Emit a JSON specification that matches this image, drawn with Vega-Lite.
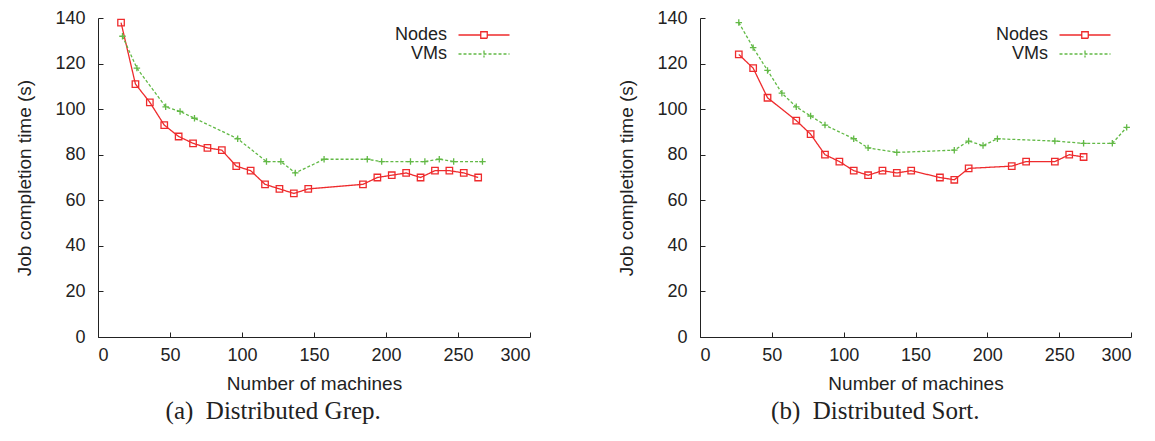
{
  "$schema": "https://vega.github.io/schema/vega-lite/v6.json",
  "background": "white",
  "padding": {"left": 15, "top": 9, "right": 2, "bottom": 2},
  "datasets": {
    "grep": [
      {"machines": 16, "time": 138, "series": "Nodes"},
      {"machines": 26, "time": 111, "series": "Nodes"},
      {"machines": 36, "time": 103, "series": "Nodes"},
      {"machines": 46, "time": 93, "series": "Nodes"},
      {"machines": 56, "time": 88, "series": "Nodes"},
      {"machines": 66, "time": 85, "series": "Nodes"},
      {"machines": 76, "time": 83, "series": "Nodes"},
      {"machines": 86, "time": 82, "series": "Nodes"},
      {"machines": 96, "time": 75, "series": "Nodes"},
      {"machines": 106, "time": 73, "series": "Nodes"},
      {"machines": 116, "time": 67, "series": "Nodes"},
      {"machines": 126, "time": 65, "series": "Nodes"},
      {"machines": 136, "time": 63, "series": "Nodes"},
      {"machines": 146, "time": 65, "series": "Nodes"},
      {"machines": 184, "time": 67, "series": "Nodes"},
      {"machines": 194, "time": 70, "series": "Nodes"},
      {"machines": 204, "time": 71, "series": "Nodes"},
      {"machines": 214, "time": 72, "series": "Nodes"},
      {"machines": 224, "time": 70, "series": "Nodes"},
      {"machines": 234, "time": 73, "series": "Nodes"},
      {"machines": 244, "time": 73, "series": "Nodes"},
      {"machines": 254, "time": 72, "series": "Nodes"},
      {"machines": 264, "time": 70, "series": "Nodes"},
      {"machines": 17, "time": 132, "series": "VMs"},
      {"machines": 27, "time": 118, "series": "VMs"},
      {"machines": 47, "time": 101, "series": "VMs"},
      {"machines": 57, "time": 99, "series": "VMs"},
      {"machines": 67, "time": 96, "series": "VMs"},
      {"machines": 97, "time": 87, "series": "VMs"},
      {"machines": 117, "time": 77, "series": "VMs"},
      {"machines": 127, "time": 77, "series": "VMs"},
      {"machines": 137, "time": 72, "series": "VMs"},
      {"machines": 157, "time": 78, "series": "VMs"},
      {"machines": 187, "time": 78, "series": "VMs"},
      {"machines": 197, "time": 77, "series": "VMs"},
      {"machines": 217, "time": 77, "series": "VMs"},
      {"machines": 227, "time": 77, "series": "VMs"},
      {"machines": 237, "time": 78, "series": "VMs"},
      {"machines": 247, "time": 77, "series": "VMs"},
      {"machines": 267, "time": 77, "series": "VMs"}
    ],
    "sort": [
      {"machines": 27, "time": 124, "series": "Nodes"},
      {"machines": 37, "time": 118, "series": "Nodes"},
      {"machines": 47, "time": 105, "series": "Nodes"},
      {"machines": 67, "time": 95, "series": "Nodes"},
      {"machines": 77, "time": 89, "series": "Nodes"},
      {"machines": 87, "time": 80, "series": "Nodes"},
      {"machines": 97, "time": 77, "series": "Nodes"},
      {"machines": 107, "time": 73, "series": "Nodes"},
      {"machines": 117, "time": 71, "series": "Nodes"},
      {"machines": 127, "time": 73, "series": "Nodes"},
      {"machines": 137, "time": 72, "series": "Nodes"},
      {"machines": 147, "time": 73, "series": "Nodes"},
      {"machines": 167, "time": 70, "series": "Nodes"},
      {"machines": 177, "time": 69, "series": "Nodes"},
      {"machines": 187, "time": 74, "series": "Nodes"},
      {"machines": 217, "time": 75, "series": "Nodes"},
      {"machines": 227, "time": 77, "series": "Nodes"},
      {"machines": 247, "time": 77, "series": "Nodes"},
      {"machines": 257, "time": 80, "series": "Nodes"},
      {"machines": 267, "time": 79, "series": "Nodes"},
      {"machines": 27, "time": 138, "series": "VMs"},
      {"machines": 37, "time": 127, "series": "VMs"},
      {"machines": 47, "time": 117, "series": "VMs"},
      {"machines": 57, "time": 107, "series": "VMs"},
      {"machines": 67, "time": 101, "series": "VMs"},
      {"machines": 77, "time": 97, "series": "VMs"},
      {"machines": 87, "time": 93, "series": "VMs"},
      {"machines": 107, "time": 87, "series": "VMs"},
      {"machines": 117, "time": 83, "series": "VMs"},
      {"machines": 137, "time": 81, "series": "VMs"},
      {"machines": 177, "time": 82, "series": "VMs"},
      {"machines": 187, "time": 86, "series": "VMs"},
      {"machines": 197, "time": 84, "series": "VMs"},
      {"machines": 207, "time": 87, "series": "VMs"},
      {"machines": 247, "time": 86, "series": "VMs"},
      {"machines": 267, "time": 85, "series": "VMs"},
      {"machines": 287, "time": 85, "series": "VMs"},
      {"machines": 297, "time": 92, "series": "VMs"}
    ]
  },
  "spacing": 86,
  "resolve": {"legend": {"color": "independent"}},
  "hconcat": [
    {
      "width": 432,
      "height": 319,
      "data": {"name": "grep"},
      "title": {"text": "(a)\u2002Distributed Grep.", "orient": "bottom", "frame": "bounds"},
      "encoding": {
        "x": {"field": "machines", "type": "quantitative", "scale": {"domain": [0, 300], "nice": false}, "axis": {"values": [0, 50, 100, 150, 200, 250, 300], "title": "Number of machines"}},
        "y": {"field": "time", "type": "quantitative", "scale": {"domain": [0, 140], "nice": false}, "axis": {"values": [0, 20, 40, 60, 80, 100, 120, 140], "title": "Job completion time (s)"}},
        "color": {"field": "series", "type": "nominal", "scale": {"domain": ["Nodes", "VMs"], "range": ["#ee2b2d", "#62b946"]},
          "legend": {"orient": "none", "legendX": 377, "legendY": 8,
            "encode": {"symbols": {"update": {
              "shape": {"signal": "datum.value === 'Nodes' ? 'M-5.1,0H-0.65M0.65,0H5.1M-0.65,-0.65H0.65V0.65H-0.65Z' : 'M-5.1,0H5.1M0,-0.7V0.7'"},
              "strokeDash": {"signal": "datum.value === 'VMs' ? [3, 2] : [1, 0]"},
              "fill": {"value": "transparent"}}}}}}
      },
      "layer": [
        {"mark": {"type": "line", "strokeWidth": 1.3},
         "encoding": {"strokeDash": {"field": "series", "type": "nominal", "scale": {"domain": ["Nodes", "VMs"], "range": [[1, 0], [3, 2]]}, "legend": null}}},
        {"mark": {"type": "point", "filled": false, "size": 42, "strokeWidth": 1.3, "opacity": 1},
         "encoding": {"shape": {"field": "series", "type": "nominal", "scale": {"domain": ["Nodes", "VMs"], "range": ["square", "M-1,0H1M0,-1V1"]}, "legend": null}}}
      ]
    },
    {
      "width": 431,
      "height": 319,
      "data": {"name": "sort"},
      "title": {"text": "(b)\u2002Distributed Sort.", "orient": "bottom", "frame": "bounds"},
      "encoding": {
        "x": {"field": "machines", "type": "quantitative", "scale": {"domain": [0, 300], "nice": false}, "axis": {"values": [0, 50, 100, 150, 200, 250, 300], "title": "Number of machines"}},
        "y": {"field": "time", "type": "quantitative", "scale": {"domain": [0, 140], "nice": false}, "axis": {"values": [0, 20, 40, 60, 80, 100, 120, 140], "title": "Job completion time (s)"}},
        "color": {"field": "series", "type": "nominal", "scale": {"domain": ["Nodes", "VMs"], "range": ["#ee2b2d", "#62b946"]},
          "legend": {"orient": "none", "legendX": 376, "legendY": 8,
            "encode": {"symbols": {"update": {
              "shape": {"signal": "datum.value === 'Nodes' ? 'M-5.1,0H-0.65M0.65,0H5.1M-0.65,-0.65H0.65V0.65H-0.65Z' : 'M-5.1,0H5.1M0,-0.7V0.7'"},
              "strokeDash": {"signal": "datum.value === 'VMs' ? [3, 2] : [1, 0]"},
              "fill": {"value": "transparent"}}}}}}
      },
      "layer": [
        {"mark": {"type": "line", "strokeWidth": 1.3},
         "encoding": {"strokeDash": {"field": "series", "type": "nominal", "scale": {"domain": ["Nodes", "VMs"], "range": [[1, 0], [3, 2]]}, "legend": null}}},
        {"mark": {"type": "point", "filled": false, "size": 42, "strokeWidth": 1.3, "opacity": 1},
         "encoding": {"shape": {"field": "series", "type": "nominal", "scale": {"domain": ["Nodes", "VMs"], "range": ["square", "M-1,0H1M0,-1V1"]}, "legend": null}}}
      ]
    }
  ],
  "config": {
    "font": "Liberation Sans",
    "view": {"stroke": null},
    "axis": {
      "grid": false,
      "domainColor": "#222",
      "tickColor": "#222",
      "tickSize": -5,
      "labelFont": "Liberation Sans",
      "labelFontSize": 18,
      "labelColor": "#222",
      "titleFont": "Liberation Sans",
      "titleFontSize": 19,
      "titleFontWeight": "normal",
      "titleColor": "#222"
    },
    "axisX": {"labelPadding": 14, "titlePadding": 10},
    "axisY": {"labelPadding": 18, "titlePadding": 20},
    "legend": {
      "title": null,
      "padding": 0,
      "labelAlign": "right",
      "labelOffset": -46,
      "symbolSize": 100,
      "symbolStrokeWidth": 1.3,
      "labelFont": "Liberation Sans",
      "labelFontSize": 18,
      "labelColor": "#222",
      "rowPadding": 1
    },
    "title": {
      "font": "Liberation Serif",
      "fontSize": 25,
      "fontWeight": "normal",
      "color": "#222",
      "offset": 6
    }
  }
}
